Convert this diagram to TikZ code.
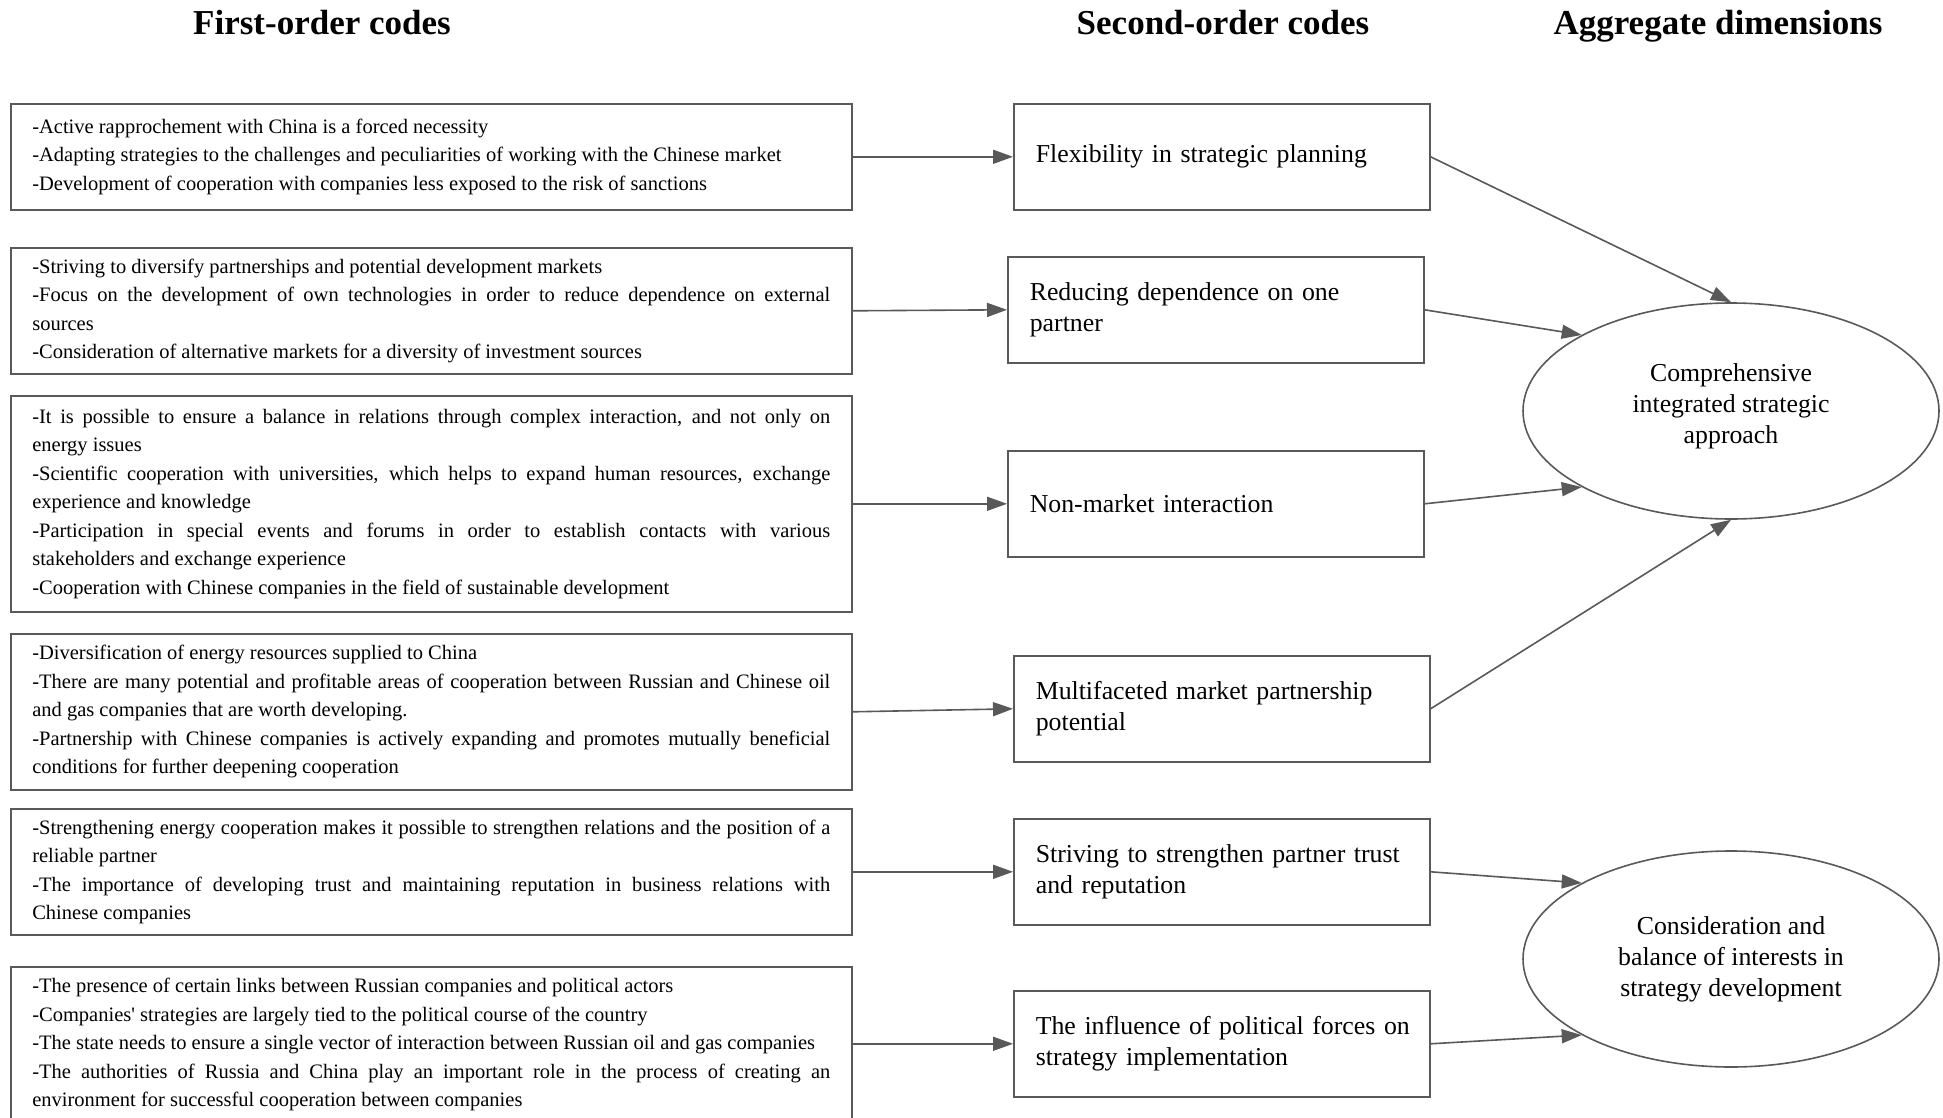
\documentclass[tikz,border=0pt]{standalone}
\usepackage{fontspec}
\setmainfont{Liberation Serif}
\usetikzlibrary{arrows.meta,shapes.geometric}
\definecolor{edgegray}{HTML}{595959}
\hyphenpenalty=10000
\exhyphenpenalty=10000
\tolerance=9999
\tikzset{
  head/.style={anchor=base, font=\fontsize{17.5}{20}\selectfont\bfseries},
  firstbox/.style={draw=edgegray, line width=0.8pt, anchor=north west, text width=399pt,
    inner xsep=10.75pt, inner ysep=0pt, align=justify, font=\fontsize{10.25}{14.25}\selectfont},
  secondbox/.style={draw=edgegray, line width=0.8pt, anchor=north west, minimum width=208pt,
    minimum height=53pt, text width=186pt, inner xsep=11pt, align=left,
    font=\fontsize{12.9}{15.5}\selectfont},
  dimension/.style={draw=edgegray, line width=0.8pt, ellipse, minimum width=208pt,
    minimum height=108pt, inner sep=0pt, align=center, font=\fontsize{12.9}{15.5}\selectfont},
  link/.style={draw=edgegray, line width=0.8pt, -{Triangle[length=10pt,width=7pt]}}
}
\begin{document}
\begin{tikzpicture}[x=0.5pt,y=-0.5pt]
\useasboundingbox (0,0) rectangle (1943,1118);

% column heads
\node[head] (h1) at (322,35) {First-order codes};
\node[head] (h2) at (1223,35) {Second-order codes};
\node[head] (h3) at (1718,35) {Aggregate dimensions};

% first-order codes
\node[firstbox, minimum height=53pt] (L1) at (10,103) {-Active rapprochement with China is a forced necessity\par
-Adapting strategies to the challenges and peculiarities of working with the Chinese market\par
-Development of cooperation with companies less exposed to the risk of sanctions};
\node[firstbox, minimum height=63pt] (L2) at (10,247) {-Striving to diversify partnerships and potential development markets\par
-Focus on the development of own technologies in order to reduce dependence on external\linebreak sources\par
-Consideration of alternative markets for a diversity of investment sources};
\node[firstbox, minimum height=108pt] (L3) at (10,395) {-It is possible to ensure a balance in relations through complex interaction, and not only on\linebreak energy issues\par
-Scientific cooperation with universities, which helps to expand human resources, exchange\linebreak experience and knowledge\par
-Participation in special events and forums in order to establish contacts with various\linebreak stakeholders and exchange experience\par
-Cooperation with Chinese companies in the field of sustainable development};
\node[firstbox, minimum height=78pt] (L4) at (10,633) {-Diversification of energy resources supplied to China\par
-There are many potential and profitable areas of cooperation between Russian and Chinese oil\linebreak and gas companies that are worth developing.\par
-Partnership with Chinese companies is actively expanding and promotes mutually beneficial\linebreak conditions for further deepening cooperation};
\node[firstbox, minimum height=63pt] (L5) at (10,808) {-Strengthening energy cooperation makes it possible to strengthen relations and the position of a\linebreak reliable partner\par
-The importance of developing trust and maintaining reputation in business relations with\linebreak Chinese companies};
\node[firstbox, minimum height=78pt] (L6) at (10,966) {-The presence of certain links between Russian companies and political actors\par
-Companies\textquotesingle\ strategies are largely tied to the political course of the country\par
-The state needs to ensure a single vector of interaction between Russian oil and gas companies\par
-The authorities of Russia and China play an important role in the process of creating an\linebreak environment for successful cooperation between companies};

% second-order codes
\node[secondbox] (M1) at (1013,103) {Flexibility in strategic planning};
\node[secondbox] (M2) at (1007,256) {Reducing dependence on one\\partner};
\node[secondbox] (M3) at (1007,450) {Non-market interaction};
\node[secondbox] (M4) at (1013,655) {Multifaceted market partnership\\potential};
\node[secondbox] (M5) at (1013,818) {Striving to strengthen partner trust\\and reputation};
\node[secondbox] (M6) at (1013,990) {\mbox{The influence of political forces on}\\strategy implementation};

% aggregate dimensions
\node[dimension] (E1) at (1731,411) {Comprehensive\\integrated strategic\\approach\\[-8pt]};
\node[dimension] (E2) at (1731,959) {Consideration and\\balance of interests in\\strategy development};

\draw[link] (L1.east) -- (M1.west);
\draw[link] (L2.east) -- (M2.west);
\draw[link] (L3.east) -- (M3.west);
\draw[link] (L4.east) -- (M4.west);
\draw[link] (L5.east) -- (M5.west);
\draw[link] (M6.west -| L6.east) -- (M6.west);

\draw[link] (M1.east) -- (E1.north);
\draw[link] (M2.east) -- (E1.153);
\draw[link] (M3.east) -- (E1.207);
\draw[link] (M4.east) -- (E1.south);
\draw[link] (M5.east) -- (E2.153);
\draw[link] (M6.east) -- (E2.207);

\end{tikzpicture}
\end{document}
